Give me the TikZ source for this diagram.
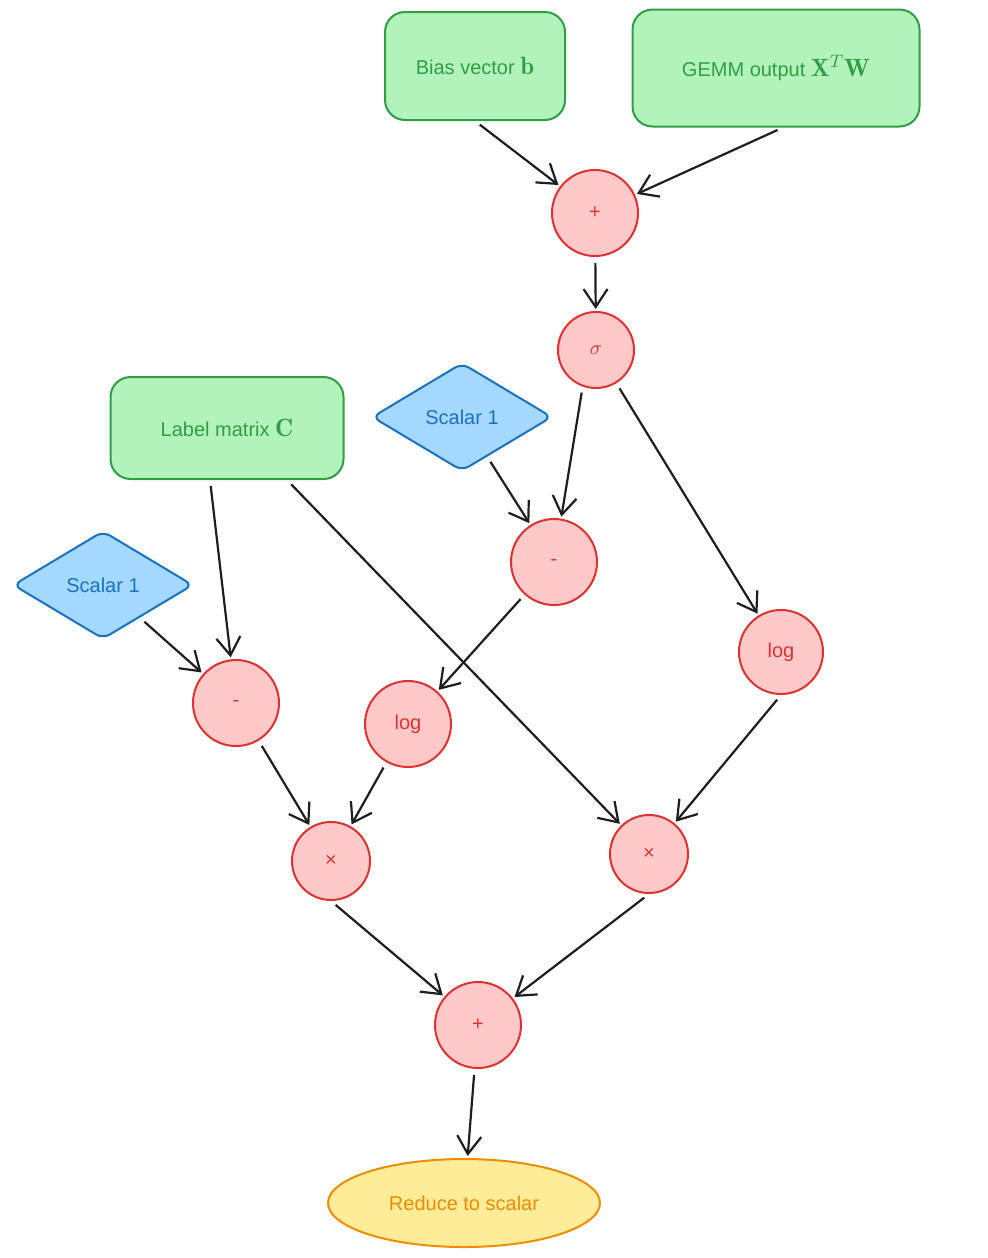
\documentclass[tikz,border=0pt]{standalone}
\usepackage{amsmath,amssymb}
\usepackage{fontspec}
\newfontfamily\diagfont{Liberation Sans}
\usepackage{tikz}
\usetikzlibrary{shapes.geometric}
\usetikzlibrary{arrows.meta}
\definecolor{inpfill}{HTML}{B2F2BB}
\definecolor{inpline}{HTML}{2F9E44}
\definecolor{opfill}{HTML}{FFC9C9}
\definecolor{opline}{HTML}{E03131}
\definecolor{constfill}{HTML}{A5D8FF}
\definecolor{constline}{HTML}{1971C2}
\definecolor{outfill}{HTML}{FFEC99}
\definecolor{outdraw}{HTML}{F08C00}
\definecolor{arrline}{HTML}{1E1E1E}
\newcommand{\tensr}[1]{{\fontsize{12.5}{14}\selectfont$#1$}}
\tikzset{
    inbox/.style={draw=inpline, fill=inpfill, line width=1pt, rounded corners=10pt, text=inpline, font=\diagfont},
    constd/.style={shape=diamond, draw=constline, fill=constfill, line width=1pt, rounded corners=4pt, text=constline, font=\diagfont, inner sep=0pt, minimum width=90pt, minimum height=54pt},
    opc/.style={circle, draw=opline, fill=opfill, line width=1pt, text=opline, font=\diagfont, inner sep=0pt},
    outell/.style={ellipse, draw=outdraw, fill=outfill, line width=1pt, text=outdraw, font=\diagfont, minimum width=136pt, minimum height=44pt},
    arr/.style={draw=arrline, line width=1.1pt, -{Straight Barb[length=9pt,width=12pt]}, shorten <=3pt, shorten >=1pt}
}

\begin{document}
\begin{tikzpicture}[x=0.5pt, y=-0.5pt]
        \useasboundingbox (0,0) rectangle (988,1258);
        % inputs
        \node[inbox, minimum width=90pt, minimum height=54pt] (bias) at (475,66) {Bias vector \tensr{\mathbf{b}}};
        \node[inbox, minimum width=143.5pt, minimum height=58.5pt] (gemm) at (776,68) {GEMM output \tensr{\mathbf{X}^T\mathbf{W}}};
        \node[inbox, minimum width=116.5pt, minimum height=51pt] (lblC) at (227,428) {Label matrix \tensr{\mathbf{C}}};
        % constants
        \node[constd] (oneA) at (462,417) {Scalar 1};
        \node[constd] (oneB) at (103,585) {Scalar 1};
        % operations
        \node[opc, minimum size=43pt] (addB) at (595,213) {+};
        \node[opc, minimum size=38pt] (sig) at (596,350) {$\sigma$};
        \node[opc, minimum size=43pt] (subA) at (554,562) {-};
        \node[opc, minimum size=42pt] (logA) at (781,652) {log};
        \node[opc, minimum size=43pt] (subB) at (236,703) {-};
        \node[opc, minimum size=43pt] (logB) at (408,724) {log};
        \node[opc, minimum size=39pt] (mulA) at (331,861) {×};
        \node[opc, minimum size=39pt] (mulB) at (649,854) {×};
        \node[opc, minimum size=43pt] (sumAll) at (478,1025) {+};
        % output
        \node[outell] (red) at (464,1203) {Reduce to scalar};
        % row 1
        \draw[arr] (bias.south) -- (addB);
        \draw[arr] ([xshift=3.5pt]gemm.south) -- (addB);
        \draw[arr] (addB) -- (sig);
        % row 2
        \draw[arr] (sig.250) -- (subA);
        \draw[arr] (sig) -- (logA);
        \draw[arr] (oneA) -- (subA);
        % row 3
        \draw[arr] ([xshift=-8.5pt]lblC.south) -- (subB);
        \draw[arr] ([xshift=30pt]lblC.south) -- (mulB);
        \draw[arr] (oneB) -- (subB);
        \draw[arr] (subA) -- (logB);
        % row 4
        \draw[arr] (subB) -- (mulA);
        \draw[arr] (logB) -- (mulA);
        \draw[arr] (logA.south) -- (mulB);
        % row 5
        \draw[arr] (mulA.south) -- (sumAll);
        \draw[arr] (mulB.south) -- (sumAll);
        \draw[arr] (sumAll) -- (red);
    \end{tikzpicture}
\end{document}
